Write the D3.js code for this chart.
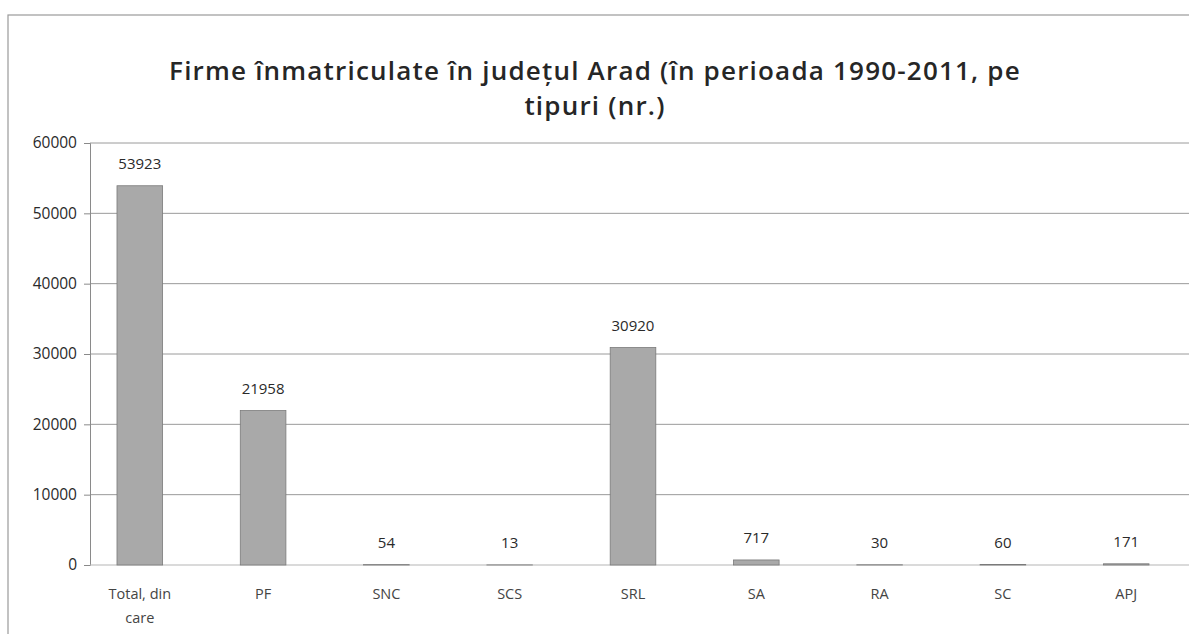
<!DOCTYPE html>
<meta charset="utf-8">
<head>
    <script src="https://d3js.org/d3.v7.min.js"></script>
    <style>
    body { margin: 0; background: #fff; }
    .tick text { font-family: "Open Sans", sans-serif; font-size: 15.5px; fill: #2a2a2a; }
    .title { font-family: "Open Sans", sans-serif; font-size: 26px; font-weight: 600; letter-spacing: 1.2px; fill: #262626; }
    .valueLabel { font-family: "Open Sans", sans-serif; font-size: 15px; fill: #2a2a2a; }
    .catLabel { font-family: "Open Sans", sans-serif; font-size: 14.5px; fill: #444; }
    </style>
</head>
<body>
<svg id="chart"></svg>
<script>
// data
var categories = ["Total, din care", "PF", "SNC", "SCS", "SRL", "SA", "RA", "SC", "APJ"];
var categoryLines = [["Total, din", "care"], ["PF"], ["SNC"], ["SCS"], ["SRL"], ["SA"], ["RA"], ["SC"], ["APJ"]];
var values = [53923, 21958, 54, 13, 30920, 717, 30, 60, 171];
var yTicks = [0, 10000, 20000, 30000, 40000, 50000, 60000];
var titleLines = ["Firme înmatriculate în județul Arad (în perioada 1990-2011, pe", "tipuri (nr.)"];

var W = 1189, H = 634;
var svg = d3.select("#chart").attr("width", W).attr("height", H);

// chart frame
svg.append("rect")
    .attr("x", 8).attr("y", 15)
    .attr("width", W).attr("height", H)
    .attr("fill", "none")
    .attr("stroke", "#9a9a9a")
    .attr("stroke-width", 1.2);

// title
svg.selectAll(".title")
    .data(titleLines)
    .enter().append("text")
    .attr("class", "title")
    .attr("x", 595)
    .attr("y", function(d, i) { return 80 + i * 35; })
    .attr("text-anchor", "middle")
    .text(function(d) { return d; });

// scales
var x = d3.scaleBand().domain(categories).range([80, 1186]).paddingInner(0.63).paddingOuter(0.3);
var y = d3.scaleLinear().domain([0, 60000]).range([565, 143]);

// gridlines
svg.append("g")
    .selectAll("line")
    .data(yTicks.filter(function(d) { return d > 0; }))
    .enter().append("line")
    .attr("x1", 90).attr("x2", 1189)
    .attr("y1", function(d) { return y(d); })
    .attr("y2", function(d) { return y(d); })
    .attr("stroke", "#9a9a9a")
    .attr("stroke-width", 1);

// y axis
var yAxis = svg.append("g")
    .attr("transform", "translate(90,0)")
    .call(d3.axisLeft(y).tickValues(yTicks).tickSize(6).tickPadding(7).tickFormat(d3.format("d")));
yAxis.select(".domain").attr("stroke", "#8a8a8a");
yAxis.selectAll(".tick line").attr("stroke", "#8a8a8a");

// x baseline
svg.append("line")
    .attr("x1", 90).attr("x2", 1189)
    .attr("y1", y(0)).attr("y2", y(0))
    .attr("stroke", "#b5b5b5");

// bars
svg.append("g")
    .selectAll("rect")
    .data(values)
    .enter().append("rect")
    .attr("x", function(d, i) { return x(categories[i]); })
    .attr("width", x.bandwidth())
    .attr("y", function(d) { return y(d); })
    .attr("height", function(d) { return y(0) - y(d); })
    .attr("fill", "#a9a9a9")
    .attr("stroke", "#7a7a7a")
    .attr("stroke-width", 0.8);

// value labels
svg.append("g")
    .selectAll("text")
    .data(values)
    .enter().append("text")
    .attr("class", "valueLabel")
    .attr("x", function(d, i) { return x(categories[i]) + x.bandwidth() / 2; })
    .attr("y", function(d) { return y(d) - 17; })
    .attr("text-anchor", "middle")
    .text(function(d) { return d; });

// category labels
var cat = svg.append("g")
    .selectAll("text")
    .data(categoryLines)
    .enter().append("text")
    .attr("class", "catLabel")
    .attr("text-anchor", "middle")
    .attr("x", function(d, i) { return x(categories[i]) + x.bandwidth() / 2; })
    .attr("y", 599);
cat.selectAll("tspan")
    .data(function(d) { return d; })
    .enter().append("tspan")
    .attr("x", function() { return d3.select(this.parentNode).attr("x"); })
    .attr("dy", function(d, i) { return i === 0 ? 0 : 24; })
    .text(function(d) { return d; });
</script>
</body>
